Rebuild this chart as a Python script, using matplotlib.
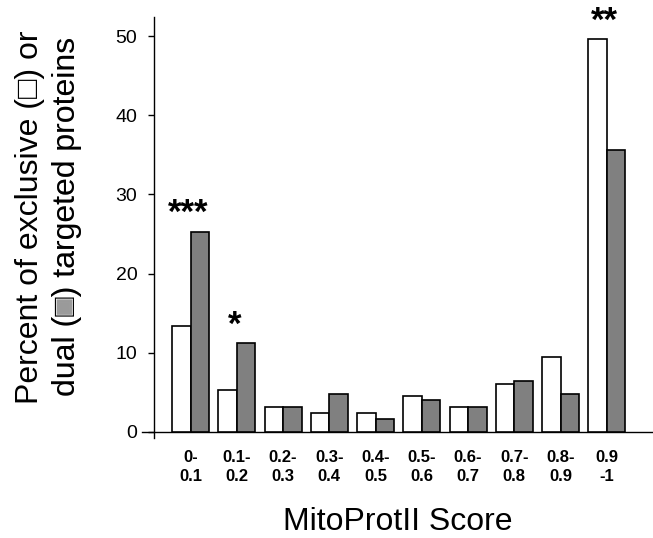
import matplotlib
matplotlib.use("Agg")
import matplotlib.pyplot as plt
import numpy as np

plt.rcParams['font.family'] = ['Liberation Sans', 'DejaVu Sans']

categories = ["0-\n0.1", "0.1-\n0.2", "0.2-\n0.3", "0.3-\n0.4", "0.4-\n0.5",
              "0.5-\n0.6", "0.6-\n0.7", "0.7-\n0.8", "0.8-\n0.9", "0.9\n-1"]
exclusive = [13.4, 5.3, 3.1, 2.4, 2.4, 4.5, 3.1, 6.0, 9.5, 49.6]
dual = [25.3, 11.2, 3.1, 4.8, 1.7, 4.0, 3.1, 6.4, 4.8, 35.6]
stars = ["***", "*", "", "", "", "", "", "", "", "**"]
yticks = [0, 10, 20, 30, 40, 50]

fig = plt.figure(figsize=(6.53, 5.38), dpi=100)
ax = fig.add_axes([0.2175, 0.1853, 0.7825, 0.7831])

x = np.arange(len(categories))
w = 0.4
ax.bar(x - w/2, exclusive, w, color='white', edgecolor='black', linewidth=1.2, zorder=3)
ax.bar(x + w/2, dual, w, color='#808080', edgecolor='black', linewidth=1.2, zorder=3)

for i, s in enumerate(stars):
    if s:
        top = max(exclusive[i], dual[i])
        ax.text(x[i] - 0.05, top + 1.1, s, ha='center', va='baseline', fontsize=25,
                fontweight='bold', clip_on=False)

ax.set_xlim(-1.05, 10.0)
ax.set_ylim(-0.8, 52.4)
ax.spines['top'].set_visible(False)
ax.spines['right'].set_visible(False)
ax.spines['left'].set_position(('data', -0.79))
ax.spines['bottom'].set_position(('data', 0))
ax.spines['left'].set_linewidth(1.0)
ax.spines['bottom'].set_linewidth(1.0)

ax.set_yticks(yticks)
ax.tick_params(axis='y', direction='out', length=4, width=1, labelsize=14, pad=8)
ax.set_xticks(x)
ax.set_xticklabels(categories, fontsize=12, fontweight='bold', linespacing=1.35)
ax.tick_params(axis='x', length=0, pad=13)

ax.set_xlabel("MitoProtII Score", fontsize=23, va='baseline')
ax.xaxis.set_label_coords(0.5, -0.2176)

ylab_size = 23
ycen = 0.597
fig.text(30/653, ycen, "Percent of exclusive (\u25a1) or", rotation=90,
         ha='center', va='center', fontsize=ylab_size, color='black')
fig.text(67/653, ycen, "dual (\u25a0) targeted proteins", rotation=90,
         ha='center', va='center', fontsize=ylab_size, color='#9a9a9a')
fig.text(67/653, ycen, "dual (\u25a1) targeted proteins", rotation=90,
         ha='center', va='center', fontsize=ylab_size, color='black')

fig.savefig("out.png", dpi=100)
